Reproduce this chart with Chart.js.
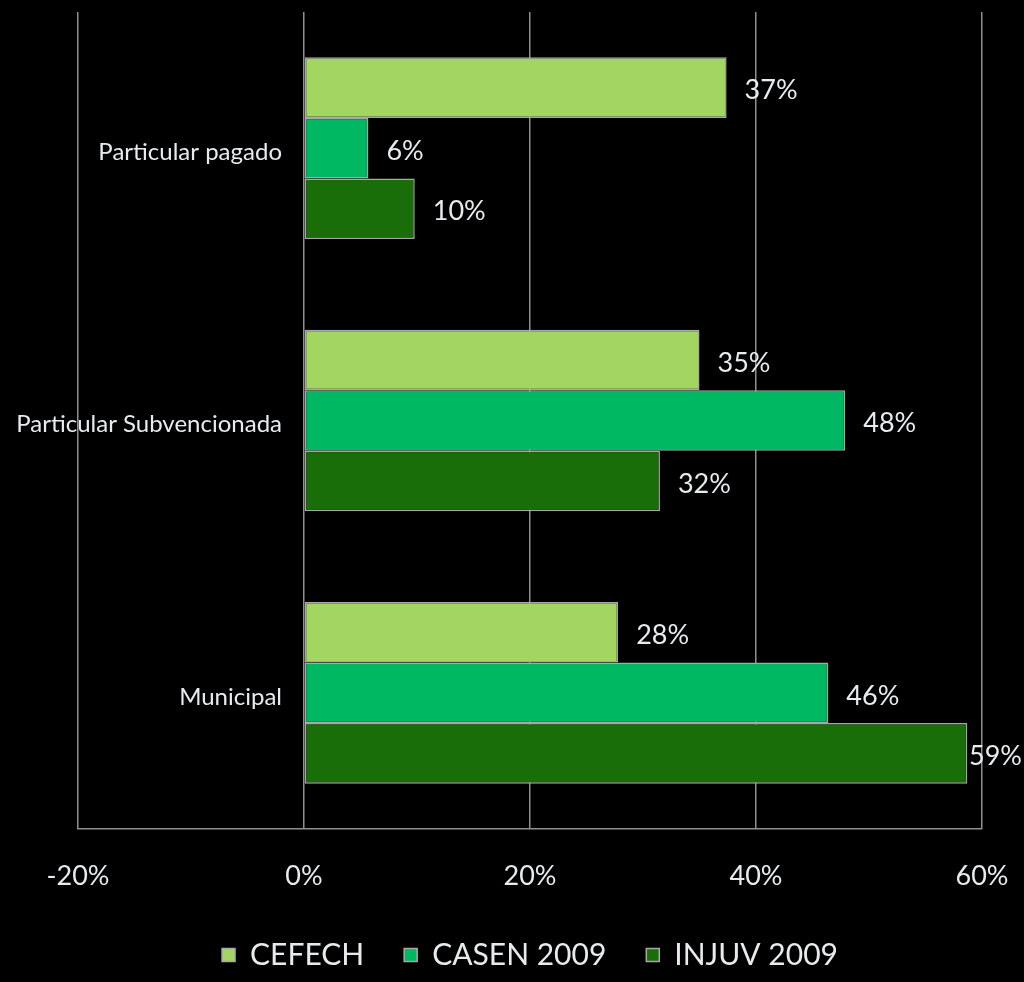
<!DOCTYPE html>
<html>
<head>
<meta charset="utf-8">
<script src="https://cdn.jsdelivr.net/npm/chart.js@4.4.0/dist/chart.umd.min.js"></script>
<style>
html,body{margin:0;padding:0;background:#000;}
#wrap{width:1024px;height:982px;}
</style>
</head>
<body>
<div id="wrap"><canvas id="c" width="1024" height="982"></canvas></div>
<script>
const categories = ['Particular pagado', 'Particular Subvencionada', 'Municipal'];
const seriesNames = ['CEFECH', 'CASEN 2009', 'INJUV 2009'];
const cefech = [37.4, 35.0, 27.8];
const casen = [5.7, 47.9, 46.4];
const injuv = [9.8, 31.5, 58.7];
const xTicks = [-20, 0, 20, 40, 60];
const colors = ['#A2D660', '#00B862', '#1A6E0A'];

const textColor = '#E6EBEE';
const gridColor = '#8F8F8F';
const FONT = 'Lato, "Open Sans", sans-serif';

const categoryLabels = {
  id: 'categoryLabels',
  afterDraw(chart) {
    const ctx = chart.ctx;
    const y = chart.scales.y;
    ctx.save();
    ctx.fillStyle = textColor;
    ctx.font = '24px ' + FONT;
    ctx.textAlign = 'right';
    ctx.textBaseline = 'middle';
    categories.forEach((c, i) => {
      ctx.fillText(c, 282, y.getPixelForValue(i) + 4);
    });
    ctx.restore();
  }
};

const valueLabels = {
  id: 'valueLabels',
  afterDatasetsDraw(chart) {
    const ctx = chart.ctx;
    ctx.save();
    ctx.fillStyle = textColor;
    ctx.font = '27px ' + FONT;
    ctx.textAlign = 'left';
    ctx.textBaseline = 'middle';
    chart.data.datasets.forEach((ds, di) => {
      const meta = chart.getDatasetMeta(di);
      meta.data.forEach((bar, i) => {
        const txt = Math.round(ds.data[i]) + '%';
        const w = ctx.measureText(txt).width;
        let x = bar.x + 18;
        if (x + w > chart.width - 2) x = chart.width - 2 - w;
        ctx.fillText(txt, x, bar.y + 3);
      });
    });
    ctx.restore();
  }
};

new Chart(document.getElementById('c'), {
  type: 'bar',
  data: {
    labels: categories,
    datasets: [
      { label: seriesNames[0], data: cefech, backgroundColor: colors[0] },
      { label: seriesNames[1], data: casen, backgroundColor: colors[1] },
      { label: seriesNames[2], data: injuv, backgroundColor: colors[2] }
    ].map(d => Object.assign(d, {
      borderColor: '#A8A8A8', borderWidth: 1.5, borderSkipped: false,
      categoryPercentage: 0.667, barPercentage: 1.0
    }))
  },
  options: {
    indexAxis: 'y',
    responsive: false,
    animation: false,
    devicePixelRatio: 1,
    layout: { padding: { left: 78, right: 42, top: 12, bottom: 2 } },
    scales: {
      x: {
        min: -20, max: 60,
        afterBuildTicks(scale) { scale.ticks = xTicks.map(v => ({ value: v })); },
        afterFit(scale) {
          scale.paddingLeft = 0;
          scale.paddingRight = 0;
          scale.height = 71;
        },
        grid: { color: gridColor, lineWidth: 1.5, drawTicks: false },
        border: { color: gridColor, width: 1.5 },
        ticks: {
          color: textColor, font: { size: 27, family: FONT }, padding: 31,
          callback: v => v + '%'
        }
      },
      y: { display: false }
    },
    plugins: {
      legend: {
        position: 'bottom',
        labels: {
          color: textColor, font: { size: 30, family: FONT },
          boxWidth: 13, boxHeight: 13, padding: 40
        }
      },
      tooltip: { enabled: false }
    }
  },
  plugins: [categoryLabels, valueLabels]
});
</script>
</body>
</html>
